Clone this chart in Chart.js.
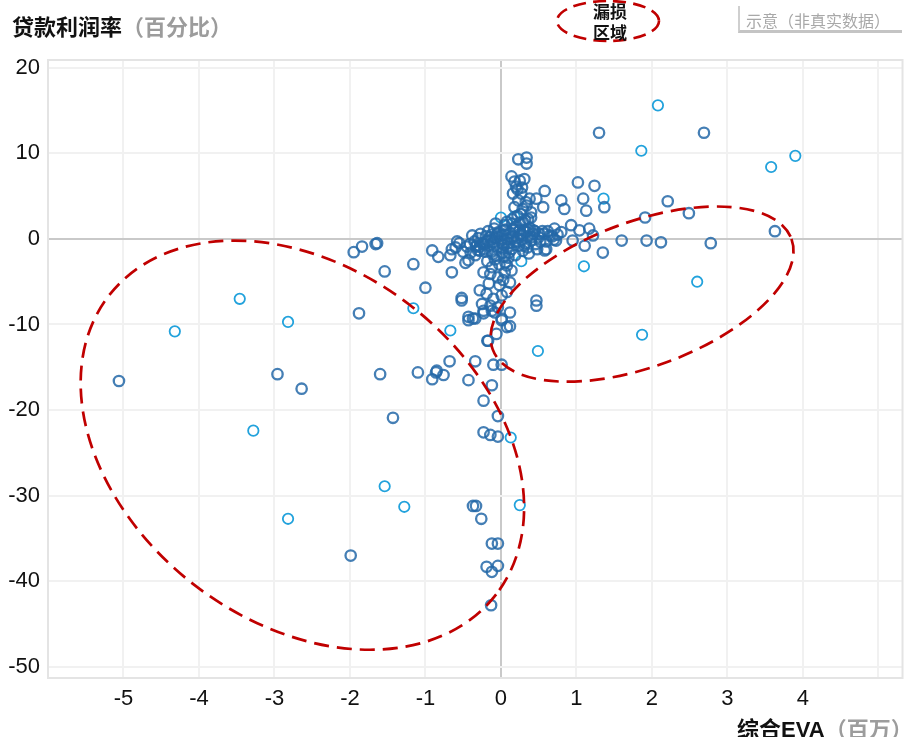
<!DOCTYPE html>
<html><head><meta charset="utf-8">
<script src="https://cdn.jsdelivr.net/npm/chart.js@4/dist/chart.umd.min.js"></script>
<style>
html,body{margin:0;padding:0;background:#fff;}
#wrap{position:relative;width:910px;height:737px;overflow:hidden;background:#fff;}
#c{position:absolute;left:0;top:0;}
.t{position:absolute;white-space:nowrap;font-family:"Noto Sans CJK SC","Noto Sans",sans-serif;}
</style></head><body>
<div id="wrap">
<canvas id="c" width="910" height="737"></canvas>
<div class="t" style="left:12px;top:10px;font-size:22px;font-weight:bold;line-height:30px;"><span style="color:#111">贷款利润率</span><span style="color:#9c9c9c">（百分比）</span></div>
<div class="t" style="left:737px;top:712px;font-size:22px;font-weight:bold;line-height:30px;"><span style="color:#111">综合</span><span style="color:#111;font-family:'Liberation Sans',Arial,sans-serif;">EVA</span><span style="color:#9c9c9c">（百万）</span></div>
<div class="t" style="left:738px;top:6px;width:164px;height:27px;border-left:2px solid #cfcfcf;border-bottom:3px solid #c4c4c4;font-size:16px;line-height:28px;color:#a8a8a8;padding-left:6px;box-sizing:border-box;">示意（非真实数据）</div>
<svg style="position:absolute;left:550px;top:0px;" width="120" height="46"><ellipse cx="58" cy="21" rx="51" ry="20" fill="none" stroke="#c00000" stroke-width="2.6" stroke-dasharray="13 7"/></svg>
<div class="t" style="left:587px;top:0px;width:46px;text-align:center;font-size:17px;font-weight:bold;line-height:21px;color:#111;">漏损<br>区域</div>
</div>
<script>
// ---- data ----
const xTickValues = [-5,-4,-3,-2,-1,0,1,2,3,4,5];
const xTickLabels = ['-5','-4','-3','-2','-1','0','1','2','3','4',''];
const yTickValues = [-50,-40,-30,-20,-10,0,10,20];
const yTickLabels = ['-50','-40','-30','-20','-10','0','10','20'];

// dark blue loans: 综合EVA (百万) and 贷款利润率 (%)
const darkEVA = [
 -5.06,-2.96,-2.64,-1.88,-1.00,-1.60,-1.10,-0.91,-0.86,-1.43,-1.99,
 -1.95,-1.84,-1.66,-1.64,-1.54,-1.16,-0.91,-0.83,
 -0.65,-0.67,-0.65,-0.52,-0.41,-0.32,-0.43,-0.34,-0.28,-0.23,
 -0.85,-0.76,-0.68,-0.34,-0.43,-0.12,-0.10,0.01,-0.23,-0.04,-0.23,-0.14,-0.04,
 -0.37,-0.33,-0.26,-0.12,-0.04,-0.19,-0.12,-0.04,-0.13,
 -0.52,-0.37,-0.43,-0.23,-0.12,0.01,0.12,-0.06,-0.18,0.47,0.47,
 -0.23,-0.14,-0.04,0.05,0.14,0.12,-0.28,-0.19,-0.10,0.01,0.08,-0.25,-0.14,-0.04,-0.23,-0.08,0.12,0.01,0.08,-0.34,-0.43,-0.17,
 0.58,
 0.23,0.34,0.34,0.14,0.18,0.25,0.20,0.16,0.27,0.23,0.38,0.18,0.40,0.29,0.34,0.40,
 0.58,0.47,0.56,0.80,0.84,1.02,1.24,1.09,1.13,1.37,1.30,2.69,
 2.21,2.49,1.91,3.63,1.60,1.93,2.12,2.78,1.35,
 0.93,1.04,1.17,1.22,1.11,0.95,0.80,0.73,0.60,0.71,
 -0.14,-0.04,0.05,0.16,0.25,0.34,0.43,0.51,
 -0.35,-0.30,-0.25,-0.20,-0.18,-0.15,-0.12,-0.10,-0.08,-0.05,-0.03,0.00,0.02,0.04,0.06,0.08,0.10,0.12,0.14,0.16,
 0.18,0.20,0.22,0.24,0.26,0.28,0.30,0.32,0.35,0.38,0.40,0.43,0.46,0.50,0.55,0.60,0.65,0.70,
 0.02,-0.06,0.10,-0.12,0.06,-0.02,0.15,0.08,0.25,-0.22,-0.28,0.35,-0.55,-0.50,-0.47,
 -0.38,-0.33,-0.27,-0.22,-0.17,-0.13,-0.09,-0.04,0.01,0.05,0.09,0.13,0.17,0.21,0.27,0.31,0.36,0.41,0.45,0.52,
 0.57,0.62,0.68,0.75,-0.31,-0.21,-0.11,0.03,0.11,0.19,0.29,0.37,0.48,-0.45,-0.40,0.15,0.22,0.05,-0.07,0.32,
 -0.18,-0.08,0.04,-0.12,0.08,-0.02,-0.16,0.03,
 0.28,0.31,0.22,0.33,0.26,0.36,0.30,-0.58,-0.60
];
const darkMargin = [
 -16.6,-15.8,-17.5,-8.7,-5.7,-15.8,-15.6,-16.4,-15.6,-20.9,-37.0,
 -1.55,-0.9,-0.6,-0.5,-3.8,-2.95,-1.35,-2.1,
 -1.2,-1.9,-3.9,-6.9,-0.6,-0.8,-2.5,-1.9,-1.4,-0.6,
 -15.4,-15.9,-14.3,-14.3,-16.5,-17.1,-14.7,-14.7,-18.9,-20.7,-22.6,-22.9,-23.1,
 -31.2,-31.2,-32.7,-35.6,-35.6,-38.3,-38.9,-38.2,-42.8,
 -7.2,-9.3,-9.1,-8.4,-8.4,-9.3,-10.2,-11.1,-11.9,-7.8,-7.2,
 -3.9,-4.1,-4.5,-3.9,-3.7,-5.1,-6.0,-6.4,-7.0,-6.6,-6.2,-7.6,-7.8,-8.0,-8.7,-8.6,-8.6,-9.5,-10.3,-9.3,-9.5,-11.9,
 -1.35,
 9.3,9.5,8.8,7.3,6.7,6.8,6.1,5.3,5.3,4.5,4.7,3.7,3.1,3.5,3.9,2.5,
 5.6,4.7,3.7,4.5,3.5,6.6,6.2,4.7,3.3,3.7,12.4,12.4,
 4.4,3.0,2.5,0.9,-0.2,-0.2,-0.4,-0.5,-1.6,
 1.6,1.0,1.2,0.4,-0.8,-0.2,0.8,-0.2,-1.2,1.2,
 0.2,0.6,1.0,1.2,1.0,0.8,1.0,0.6,
 -0.3,0.1,-0.5,0.3,-0.2,-0.8,0.5,-0.4,0.1,-1.0,0.8,-0.2,0.4,-0.7,1.1,0.0,-0.5,0.7,-1.2,0.3,
 -0.3,1.4,0.1,-0.8,0.6,-0.1,1.0,-0.5,0.3,1.3,-0.2,0.6,-0.6,0.2,0.9,-0.3,0.4,-0.1,
 -1.6,-2.0,-2.2,-1.5,-2.8,-3.0,1.8,2.0,1.9,-1.2,-0.9,-1.0,-0.5,-1.5,-2.8,
 0.4,-0.9,0.6,-0.6,0.9,-0.1,1.2,0.3,-0.5,0.5,-0.9,0.2,1.0,-0.4,0.4,-0.8,1.1,0.2,0.9,-0.3,
 0.6,0.9,0.3,0.5,-1.3,-1.5,-1.8,-1.1,-1.6,-1.9,-1.4,-1.7,-1.2,-0.9,-1.6,2.3,2.7,1.6,1.8,2.2,
 -2.6,-2.4,-2.1,-3.3,-3.1,-5.4,-5.2,-4.8,
 6.0,7.0,5.8,4.3,2.9,2.3,1.9,-0.3,-1.0
];

// light blue loans
const lightEVA    = [2.08,1.86,3.58,3.90,1.36,0.00,0.18,0.27,1.10,2.60,1.87,0.49,-3.46,-4.32,-2.82,-1.16,-3.28,-2.82,-1.54,-1.28,0.13,0.25,-0.67];
const lightMargin = [15.6,10.3,8.4,9.7,4.7,2.5,2.6,-2.6,-3.2,-5.0,-11.2,-13.1,-7.0,-10.8,-9.7,-8.1,-22.4,-32.7,-28.9,-31.3,-23.2,-31.1,-10.7];

// dashed "leakage" regions: centre (EVA, margin), semi-axes in EVA units, rotation in degrees
const regionCenterEVA = [-2.63, 1.87];
const regionCenterMargin = [-24.1, -6.45];
const regionSemiMajor = [3.24, 2.11];
const regionSemiMinor = [2.34, 0.96];
const regionAngle = [37.6, -20.3];

const toPts = (xs, ys) => xs.map((x, i) => ({x: x, y: ys[i]}));

const regionPlugin = {
  id: 'regions',
  afterDatasetsDraw(chart) {
    const {ctx, scales: {x, y}} = chart;
    const pxPerUnit = Math.abs(x.getPixelForValue(1) - x.getPixelForValue(0));
    ctx.save();
    ctx.strokeStyle = '#c00000';
    ctx.lineWidth = 2.7;
    ctx.setLineDash([15, 8]);
    for (let i = 0; i < regionCenterEVA.length; i++) {
      ctx.beginPath();
      ctx.ellipse(x.getPixelForValue(regionCenterEVA[i]), y.getPixelForValue(regionCenterMargin[i]),
        regionSemiMajor[i] * pxPerUnit, regionSemiMinor[i] * pxPerUnit,
        regionAngle[i] * Math.PI / 180, 0, Math.PI * 2);
      ctx.stroke();
    }
    ctx.restore();
  },
  beforeDatasetsDraw(chart) {
    const {ctx, chartArea: a} = chart;
    ctx.save();
    ctx.strokeStyle = '#e4e4e4';
    ctx.lineWidth = 2;
    ctx.strokeRect(a.left, a.top, a.right - a.left, a.bottom - a.top);
    ctx.restore();
  }
};

const gridColor = c => (c.tick && c.tick.value === 0) ? '#c9c9c9' : '#f1f1f1';

new Chart(document.getElementById('c'), {
  type: 'scatter',
  data: {
    datasets: [
      { data: toPts(darkEVA, darkMargin), pointRadius: 5.2, pointBorderWidth: 2.3,
        borderColor: 'rgba(36,104,168,0.85)', backgroundColor: 'rgba(0,0,0,0)', pointStyle: 'circle' },
      { data: toPts(lightEVA, lightMargin), pointRadius: 5.2, pointBorderWidth: 1.8,
        borderColor: '#22a2dc', backgroundColor: 'rgba(0,0,0,0)', pointStyle: 'circle' }
    ]
  },
  options: {
    responsive: false, animation: false, devicePixelRatio: 1,
    layout: { padding: { top: 60, right: 5, left: 0, bottom: 0 } },
    plugins: { legend: { display: false }, tooltip: { enabled: false } },
    events: [],
    scales: {
      x: {
        type: 'linear', min: -6, max: 5.32,
        afterBuildTicks: s => { s.ticks = xTickValues.map(v => ({value: v})); },
        afterFit: s => { s.height = 59; },
        grid: { color: gridColor, lineWidth: 2, drawTicks: false },
        border: { display: false },
        ticks: { padding: 8, autoSkip: false, maxRotation: 0, color: '#111',
          font: { family: "'Liberation Sans', Arial, sans-serif", size: 22 },
          callback: (v, i) => xTickLabels[i] }
      },
      y: {
        type: 'linear', min: -51.3, max: 20.9,
        afterBuildTicks: s => { s.ticks = yTickValues.map(v => ({value: v})); },
        afterFit: s => { s.width = 48; },
        grid: { color: gridColor, lineWidth: 2, drawTicks: false },
        border: { display: false },
        ticks: { padding: 8, autoSkip: false, color: '#111',
          font: { family: "'Liberation Sans', Arial, sans-serif", size: 22 },
          callback: (v, i) => yTickLabels[i] }
      }
    }
  },
  plugins: [regionPlugin]
});
</script>
</body></html>
